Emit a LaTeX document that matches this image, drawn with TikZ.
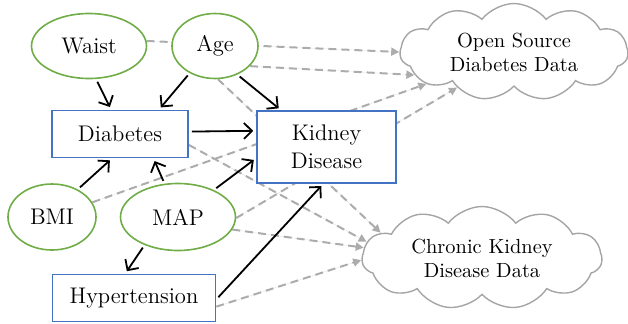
\documentclass[tikz,border=0pt]{standalone}
\usetikzlibrary{shapes.geometric,shapes.symbols,arrows.meta,backgrounds}
\definecolor{egreen}{RGB}{112,173,71}
\definecolor{bblue}{RGB}{68,114,196}
\definecolor{dgray}{RGB}{172,172,172}
\definecolor{cgray}{RGB}{165,165,165}
\begin{document}
\begin{tikzpicture}[x=0.5pt,y=-0.5pt,
  var/.style={ellipse, draw=egreen, line width=0.8pt, fill=white, inner sep=0pt,
    font=\fontsize{11.3}{14}\selectfont},
  box/.style={rectangle, draw=bblue, line width=0.8pt, fill=white, inner sep=0pt,
    align=center, font=\fontsize{11.3}{14}\selectfont},
  data/.style={cloud, cloud puffs=11, cloud puff arc=105, cloud ignores aspect, draw=cgray, line width=0.7pt,
    fill=white, align=center, inner sep=0pt, font=\fontsize{10.2}{12}\selectfont},
  causal/.style={-{Straight Barb[length=4pt,width=8pt]}, line width=0.9pt, black,
    shorten <=1.5pt, shorten >=1.5pt},
  link/.style={-{Triangle[length=4pt,width=4pt]}, dash pattern=on 4pt off 2.5pt,
    draw=dgray, fill=dgray, line width=1pt}
]
\useasboundingbox (0,0) rectangle (628,323);

\node[var, minimum width=57.5pt, minimum height=32.5pt] (waist) at (89,46) {Waist};
\node[var, minimum width=43pt, minimum height=32.5pt] (age) at (215,46) {Age};
\node[box, minimum width=68pt, minimum height=23.5pt] (diab) at (120,134) {Diabetes};
\node[box, minimum width=69.5pt, minimum height=36pt] (kid) at (326.5,147) {Kidney\\Disease};
\node[var, minimum width=44pt, minimum height=33pt] (bmi) at (52,217) {BMI};
\node[var, minimum width=57.5pt, minimum height=33.5pt] (map) at (178,217) {MAP};
\node[box, minimum width=81.5pt, minimum height=23.5pt] (hyp) at (134,298) {Hypertension};
\node[data, minimum width=114pt, minimum height=48.5pt] (os) at (514,52) {Open Source\\Diabetes Data};
\node[data, minimum width=120pt, minimum height=51.5pt] (ckd) at (482,258) {Chronic Kidney\\Disease Data};

\begin{pgfonlayer}{background}
\draw[link] (waist.5) -- (os.180);
\draw[link] (age.-30) -- (os.193);
\draw[link] (bmi.20) -- (os.200);
\draw[link] (map.-1) -- (os.212);
\draw[link] (age.-85) -- (ckd.166);
\draw[link] (diab.-9) -- (ckd.172);
\draw[link] (map.-13) -- (ckd.175);
\draw[link] (hyp.-6) -- (ckd.181);
\end{pgfonlayer}

\draw[causal] (waist.-78) -- (diab.110);
\draw[causal] (age.-133) -- (diab.32);
\draw[causal] (age.-52) -- (kid.141);
\draw[causal] (diab.2) -- (kid.167);
\draw[causal] (bmi.47) -- (diab.-108);
\draw[causal] (map.112) -- (diab.-36);
\draw[causal] (map.37) -- (kid.-171);
\draw[causal] (map.-140) -- (hyp.110);
\draw[causal] (hyp.-1) -- (kid.-95);
\end{tikzpicture}
\end{document}
